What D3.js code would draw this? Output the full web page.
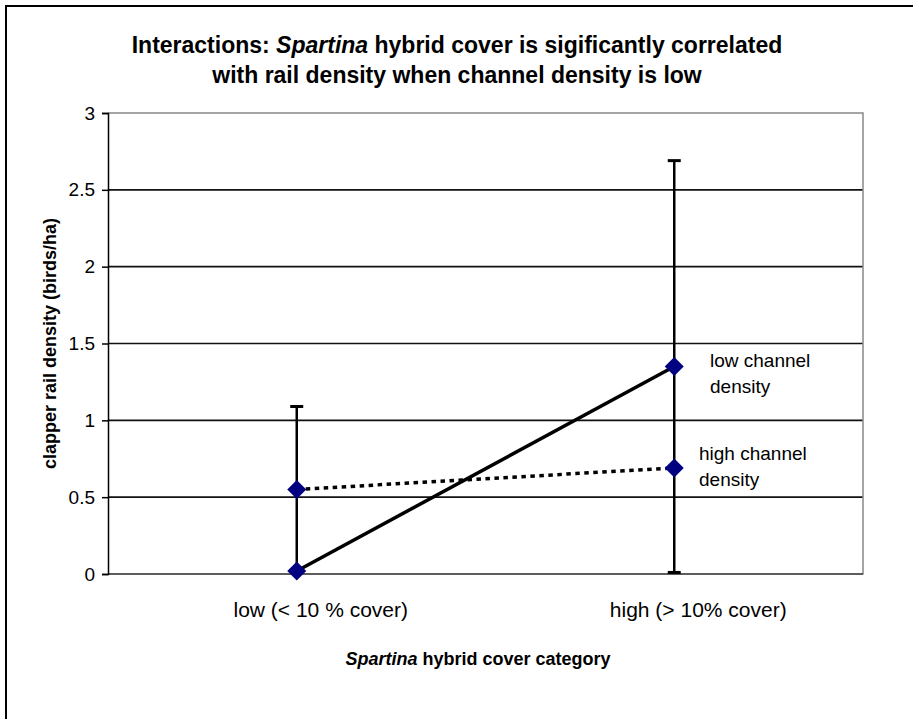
<!DOCTYPE html>
<html>
<head>
<meta charset="utf-8">
<script src="https://cdn.jsdelivr.net/npm/d3@7"></script>
<style>
  html, body { margin: 0; padding: 0; background: #fff; }
  svg { display: block; font-family: Arial, "Liberation Sans", sans-serif; }
</style>
</head>
<body>
<svg id="chart" width="913" height="719"></svg>
<script>
// Categories of Spartina hybrid cover
const categories = ["low (< 10 % cover)", "high (> 10% cover)"];
// Mean clapper rail density (birds/ha) for each channel-density group
const lowChannel = [0.02, 1.35];
const highChannel = [0.55, 0.69];
// Error bar half-widths (drawn on the low channel density series)
const lowChannelErr = [1.07, 1.34];
// Y axis ticks
const yTicks = [0, 0.5, 1, 1.5, 2, 2.5, 3];
const seriesLabels = [["low channel", "density"], ["high channel", "density"]];

const svg = d3.select("#chart");
const W = 913, H = 719;
const plot = { left: 108, right: 863, top: 113, bottom: 574 };

// Outer chart frame (runs off the right and bottom edges)
svg.append("path")
  .attr("d", `M6,${H + 2} L6,6 L${W + 2},6`)
  .attr("fill", "none").attr("stroke", "#000").attr("stroke-width", 2);

const x = d3.scaleBand().domain(categories).range([plot.left, plot.right]).padding(0);
const y = d3.scaleLinear().domain([0, 3]).range([plot.bottom, plot.top]);
const cx = c => x(c) + x.bandwidth() / 2;

// Gridlines
svg.append("g").selectAll("line").data(yTicks.filter(t => t > 0 && t < 3)).join("line")
  .attr("x1", plot.left).attr("x2", plot.right)
  .attr("y1", d => y(d)).attr("y2", d => y(d))
  .attr("stroke", "#111").attr("stroke-width", 1.6);

// Plot area border (top, right, bottom in grey)
svg.append("path")
  .attr("d", `M${plot.left},${y(3)} L${plot.right},${y(3)} L${plot.right},${y(0)} L${plot.left},${y(0)}`)
  .attr("fill", "none").attr("stroke", "#888").attr("stroke-width", 1.5);
svg.append("line")
  .attr("x1", plot.left).attr("x2", plot.right).attr("y1", y(0)).attr("y2", y(0))
  .attr("stroke", "#444").attr("stroke-width", 1.5);

// Y axis
const yAxis = d3.axisLeft(y).tickValues(yTicks).tickSize(6).tickPadding(7)
  .tickFormat(d => d3.format("")(d));
const gy = svg.append("g").attr("transform", `translate(${plot.left},0)`).call(yAxis);
gy.select(".domain").attr("stroke", "#000").attr("stroke-width", 1.5);
gy.selectAll(".tick line").attr("stroke", "#000").attr("stroke-width", 1.5);
gy.selectAll(".tick text").attr("font-size", 19).attr("fill", "#000")
  .attr("font-family", "Arial, 'Liberation Sans', sans-serif");

// X axis category labels (set slightly right of each category centre)
svg.append("g").selectAll("text").data(categories).join("text")
  .attr("x", d => cx(d) + 24).attr("y", 617)
  .attr("text-anchor", "middle").attr("font-size", 21).attr("fill", "#000")
  .text(d => d);

// Error bars
const capW = 6.5;
const eb = svg.append("g");
categories.forEach((c, i) => {
  const lo = lowChannel[i] - lowChannelErr[i];
  const hi = lowChannel[i] + lowChannelErr[i];
  const loC = Math.max(0, lo);
  eb.append("line").attr("x1", cx(c)).attr("x2", cx(c))
    .attr("y1", y(loC)).attr("y2", y(hi))
    .attr("stroke", "#000").attr("stroke-width", 2.5);
  eb.append("line").attr("x1", cx(c) - capW).attr("x2", cx(c) + capW)
    .attr("y1", y(hi)).attr("y2", y(hi))
    .attr("stroke", "#000").attr("stroke-width", 3);
  if (lo >= 0) {
    eb.append("line").attr("x1", cx(c) - capW).attr("x2", cx(c) + capW)
      .attr("y1", y(lo)).attr("y2", y(lo))
      .attr("stroke", "#000").attr("stroke-width", 3);
  }
});

// Series lines
const line = d3.line().x((d, i) => cx(categories[i])).y(d => y(d));
svg.append("path").datum(highChannel).attr("d", line)
  .attr("fill", "none").attr("stroke", "#000").attr("stroke-width", 3.5)
  .attr("stroke-dasharray", "4.5,4.5");
svg.append("path").datum(lowChannel).attr("d", line)
  .attr("fill", "none").attr("stroke", "#000").attr("stroke-width", 3.5);

// Diamond markers
const diamond = d3.symbol().type(d3.symbolSquare).size(180);
[lowChannel, highChannel].forEach(series => {
  svg.append("g").selectAll("path").data(series).join("path")
    .attr("d", diamond)
    .attr("transform", (d, i) => `translate(${cx(categories[i])},${y(d)}) rotate(45)`)
    .attr("fill", "#000080");
});

// Series labels beside the high-cover points
const labelX = [710, 699];
const labelY = [367, 460];
seriesLabels.forEach((lines, k) => {
  const t = svg.append("text").attr("font-size", 19).attr("fill", "#000");
  lines.forEach((s, j) => {
    t.append("tspan").attr("x", labelX[k]).attr("y", labelY[k] + j * 26).text(s);
  });
});

// Title
const title = svg.append("text").attr("text-anchor", "middle")
  .attr("font-size", 23).attr("font-weight", "bold").attr("fill", "#000");
const t1 = title.append("tspan").attr("x", 457).attr("y", 53);
t1.append("tspan").text("Interactions: ");
t1.append("tspan").attr("font-style", "italic").text("Spartina");
t1.append("tspan").text("  hybrid cover is sigificantly correlated");
title.append("tspan").attr("x", 457).attr("y", 83)
  .text("with rail density when channel density is low");

// Axis titles
const xt = svg.append("text").attr("x", 478).attr("y", 665).attr("text-anchor", "middle")
  .attr("font-size", 18).attr("font-weight", "bold").attr("fill", "#000");
xt.append("tspan").attr("font-style", "italic").text("Spartina");
xt.append("tspan").text("  hybrid cover category");

svg.append("text")
  .attr("transform", `translate(56,${(plot.top + plot.bottom) / 2}) rotate(-90)`)
  .attr("text-anchor", "middle").attr("font-size", 18).attr("font-weight", "bold")
  .attr("fill", "#000")
  .text("clapper rail density (birds/ha)");
</script>
</body>
</html>
